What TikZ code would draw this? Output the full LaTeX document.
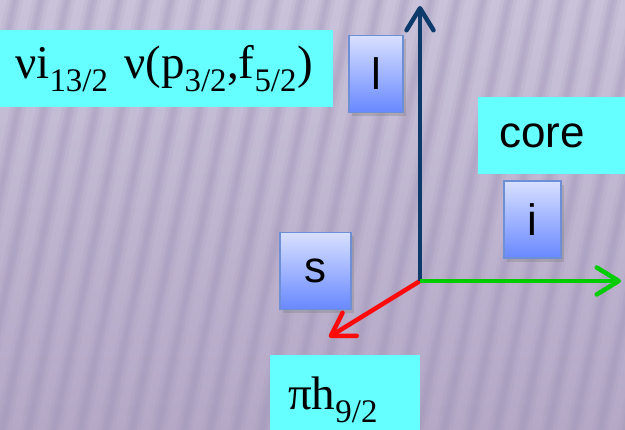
\documentclass[tikz,border=0pt]{standalone}
\usepackage{fontspec}
\setmainfont{Liberation Serif}
\setsansfont{Liberation Sans}
\usetikzlibrary{arrows.meta,shadows}
\definecolor{bgtop}{HTML}{CAC2DA}
\definecolor{bgbottom}{HTML}{B4A8C6}
\definecolor{stripe}{HTML}{9C90B4}
\definecolor{labelcyan}{HTML}{66FFFF}
\definecolor{boxtop}{HTML}{D8E0FF}
\definecolor{boxbottom}{HTML}{6888FF}
\definecolor{boxedge}{HTML}{6E8ED6}
\definecolor{navy}{HTML}{0B3A6B}
\definecolor{axisgreen}{HTML}{00CC00}
\definecolor{axisred}{HTML}{FF0A0A}

\begin{document}
\begin{tikzpicture}[x=1pt,y=-1pt,
  labelbox/.style={fill=labelcyan,anchor=west,minimum height=77pt,align=left,
    font=\fontsize{47}{50}\selectfont},
  spinbox/.style={draw=boxedge,line width=1.5pt,top color=boxtop,bottom color=boxbottom,
    minimum height=77pt,inner sep=0pt,font=\sffamily\fontsize{44}{48}\selectfont,
    drop shadow={opacity=0.35,shadow xshift=3pt,shadow yshift=-4pt}},
  axis/.style={line width=4.5pt,-{Straight Barb[length=22pt,width=27pt,round]}}]
  \useasboundingbox (0,0) rectangle (625,430);
  \clip (0,0) rectangle (625,430);
  % striped background
  \shade[top color=bgtop,bottom color=bgbottom] (0,0) rectangle (625,430);
  \foreach \k in {-5,...,27}
    {\draw[stripe,line width=16pt,opacity=0.12] ({\k*26},440) -- ({\k*26+95},-10);
     \draw[stripe,line width=9pt,opacity=0.18] ({\k*26},440) -- ({\k*26+95},-10);
     \draw[stripe,line width=4pt,opacity=0.15] ({\k*26},440) -- ({\k*26+95},-10);}
  % labels
  \node[labelbox,text width=303pt,inner xsep=15pt] (neutron) at (0,68.5)
    {νi\textsubscript{13/2} ν(p\textsubscript{3/2},f\textsubscript{5/2})};
  \node[labelbox,font=\sffamily\fontsize{44}{48}\selectfont,text width=130pt,inner xsep=21pt]
    (core) at (478,136) {core};
  \node[labelbox,text width=114pt,inner xsep=18pt,anchor=north west,minimum height=90pt]
    (proton) at (270,355) {πh\textsubscript{9/2}};
  % spin boxes
  \node[spinbox,minimum width=54pt] (lbox) at (376,74) {l};
  \node[spinbox,minimum width=57pt] (ibox) at (532.5,219.5) {i};
  \node[spinbox,minimum width=71pt] (sbox) at (315.5,271) {s};
  % axes
  \coordinate (O) at (420,281);
  \coordinate (ztip) at (420,6);
  \coordinate (xtip) at (621,281);
  \coordinate (ytip) at (329,337);
  \draw[axis,axisred] (O) -- (ytip);
  \draw[axis,navy] (O) -- (ztip);
  \draw[axis,axisgreen] (O) -- (xtip);
\end{tikzpicture}
\end{document}
